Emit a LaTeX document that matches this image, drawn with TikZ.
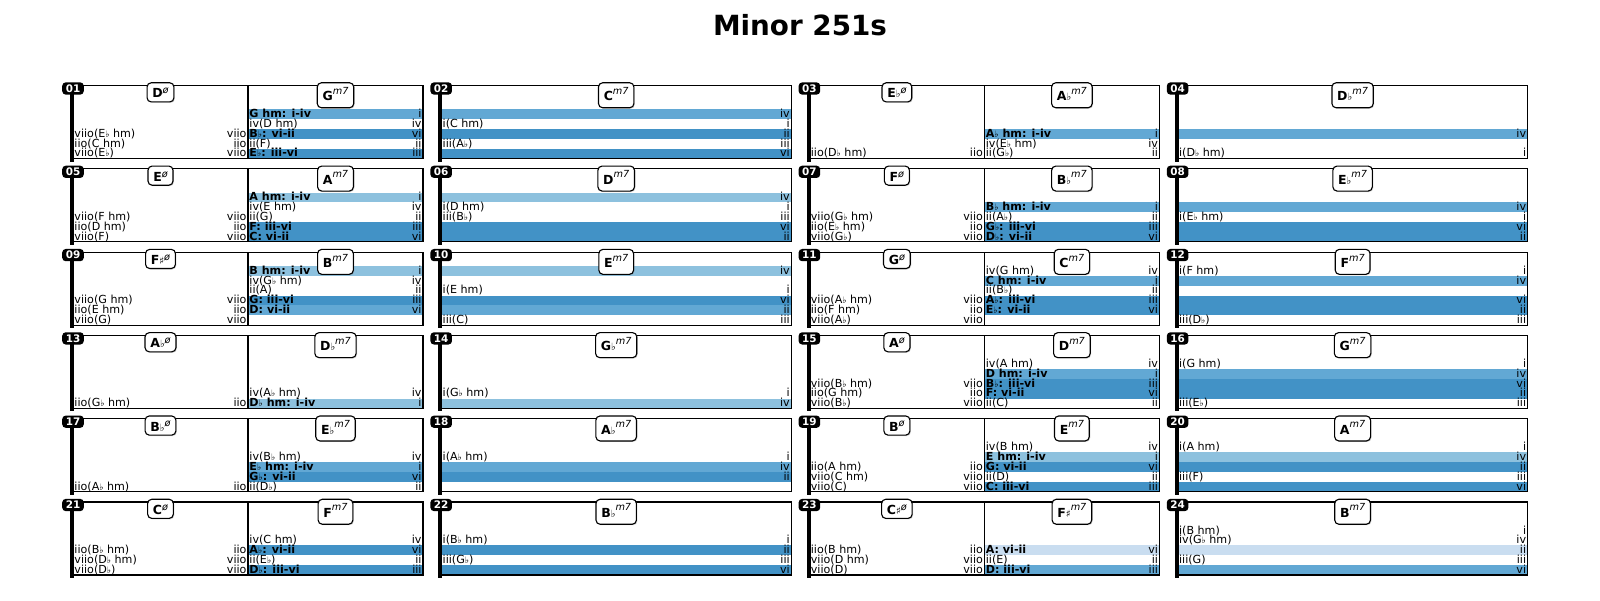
\documentclass[tikz,border=0pt]{standalone}
\usepackage{fontspec}
\setmainfont{DejaVu Sans}
\usepackage{graphicx}
\usetikzlibrary{shadows}
\definecolor{bD}{HTML}{4292C6}
\definecolor{bM}{HTML}{62A8D4}
\definecolor{bL}{HTML}{8DC1DE}
\definecolor{bV}{HTML}{C9DDF0}
\newcommand{\fl}{\scalebox{0.8}{♭}}
\newcommand{\shp}{\scalebox{0.8}{♯}}
\newcommand{\hdim}[1]{\textbf{#1}\raisebox{3pt}{\fontsize{7}{7}\selectfont\itshape ø}}
\newcommand{\msev}[1]{\textbf{#1}\raisebox{4.6pt}{\fontsize{7}{7}\selectfont\itshape m7}}
\newcounter{entc}
\newcommand{\Ent}[7]{%
  \pgfmathsetmacro{\eL}{73+368.2*#1}%
  \ifcase#3\relax
    \pgfmathsetmacro{\xa}{\eL}\pgfmathsetmacro{\xb}{\eL+175}%
  \or
    \pgfmathsetmacro{\xa}{\eL+175}\pgfmathsetmacro{\xb}{\eL+350}%
  \else
    \pgfmathsetmacro{\xa}{\eL}\pgfmathsetmacro{\xb}{\eL+350}%
  \fi
  \pgfmathsetmacro{\yb}{85.5+83.3*#2+73-9.85*(#4-1)}%
  \pgfmathsetmacro{\yt}{\yb-9.85}%
  \ifx\relax#5\relax\else\fill[#5] (\xa,\yt) rectangle (\xb,\yb);\fi
  \stepcounter{entc}%
  \node[entl] (el\theentc) at (\xa+1.2,\yb-1.6) {#6};%
  \node[entr] (er\theentc) at (\xb-1.2,\yb-1.6) {#7};%
}
% left half white row
\newcommand{\Lr}[5]{\Ent{#1}{#2}{0}{#3}{}{#4}{#5}}
\newcommand{\Rr}[6]{\Ent{#1}{#2}{1}{#3}{#4}{#5}{#6}}
\newcommand{\Fr}[6]{\Ent{#1}{#2}{2}{#3}{#4}{#5}{#6}}
\newcommand{\BadgeBar}[1]{%
  \draw[bar] (\pL-0.8,\pT+3) -- (\pL-0.8,\pT+76);
  \node[badge] (b#1) at (\pL,\pT+3) {#1};}
\newcommand{\SplitP}[5]{%
  \pgfmathsetmacro{\pL}{73+368.2*#1}\pgfmathsetmacro{\pT}{85.5+83.3*#2}%
  \draw[frame] (\pL,\pT) rectangle (\pL+350,\pT+73);
  \draw[frame] (\pL+175,\pT) -- (\pL+175,\pT+73);
  \node[chordA] (h#3) at (\pL+87.5,\pT-3.3) {#4};
  \node[chordB] (m#3) at (\pL+262.5,\pT-3.3) {#5};
  \BadgeBar{#3}}
\newcommand{\SingleP}[4]{%
  \pgfmathsetmacro{\pL}{73+368.2*#1}\pgfmathsetmacro{\pT}{85.5+83.3*#2}%
  \draw[frame] (\pL,\pT) rectangle (\pL+350,\pT+73);
  \node[chordB] (m#3) at (\pL+175,\pT-3.3) {#4};
  \BadgeBar{#3}}
\tikzset{
  entl/.style={anchor=base west, inner sep=0pt, font=\fontsize{8}{8}\selectfont},
  entr/.style={anchor=base east, inner sep=0pt, font=\fontsize{8}{8}\selectfont},
  frame/.style={draw=black, line width=0.8pt},
  bar/.style={line width=3pt, black},
  badge/.style={fill=black, text=white, rounded corners=2.5pt, font=\fontsize{7.5}{7.5}\selectfont\bfseries, minimum width=15.5pt, minimum height=8.8pt, inner sep=0pt},
  chordbase/.style={draw=black, fill=white, line width=0.8pt, rounded corners=3pt, anchor=north, inner xsep=3.8pt, inner ysep=2.9pt, font=\fontsize{9}{9}\selectfont, drop shadow={shadow xshift=0.7pt, shadow yshift=-0.7pt, opacity=0.35}},
  chordA/.style={chordbase, text height=8pt, text depth=0pt},
  chordB/.style={chordbase, text height=10.1pt, text depth=2.1pt},
}
\begin{document}
\begin{tikzpicture}[x=0.72pt, y=-0.72pt]
\useasboundingbox (0,0) rectangle (1600,600);
\node[font=\fontsize{20}{24}\selectfont\bfseries] (title) at (800,25) {Minor 251s};
% ---- 01
\Lr{0}{0}{3}{viio(E\fl\ hm)}{viio}\Lr{0}{0}{2}{iio(C hm)}{iio}\Lr{0}{0}{1}{viio(E\fl)}{viio}
\Rr{0}{0}{5}{bM}{\bfseries G hm: i-iv}{i}\Rr{0}{0}{4}{}{iv(D hm)}{iv}\Rr{0}{0}{3}{bD}{\bfseries B\fl: vi-ii}{vi}\Rr{0}{0}{2}{}{ii(F)}{ii}\Rr{0}{0}{1}{bD}{\bfseries E\fl: iii-vi}{iii}
\SplitP{0}{0}{01}{\hdim{D}}{\msev{G}}
% ---- 02
\Fr{1}{0}{5}{bM}{}{iv}\Fr{1}{0}{4}{}{i(C hm)}{i}\Fr{1}{0}{3}{bD}{}{ii}\Fr{1}{0}{2}{}{iii(A\fl)}{iii}\Fr{1}{0}{1}{bD}{}{vi}
\SingleP{1}{0}{02}{\msev{C}}
% ---- 03
\Lr{2}{0}{1}{iio(D\fl\ hm)}{iio}
\Rr{2}{0}{3}{bM}{\bfseries A\fl\ hm: i-iv}{i}\Rr{2}{0}{2}{}{iv(E\fl\ hm)}{iv}\Rr{2}{0}{1}{}{ii(G\fl)}{ii}
\SplitP{2}{0}{03}{\hdim{E\fl}}{\msev{A\fl}}
% ---- 04
\Fr{3}{0}{3}{bM}{}{iv}\Fr{3}{0}{1}{}{i(D\fl\ hm)}{i}
\SingleP{3}{0}{04}{\msev{D\fl}}
% ---- 05
\Lr{0}{1}{3}{viio(F hm)}{viio}\Lr{0}{1}{2}{iio(D hm)}{iio}\Lr{0}{1}{1}{viio(F)}{viio}
\Rr{0}{1}{5}{bL}{\bfseries A hm: i-iv}{i}\Rr{0}{1}{4}{}{iv(E hm)}{iv}\Rr{0}{1}{3}{}{ii(G)}{ii}\Rr{0}{1}{2}{bD}{\bfseries F: iii-vi}{iii}\Rr{0}{1}{1}{bD}{\bfseries C: vi-ii}{vi}
\SplitP{0}{1}{05}{\hdim{E}}{\msev{A}}
% ---- 06
\Fr{1}{1}{5}{bL}{}{iv}\Fr{1}{1}{4}{}{i(D hm)}{i}\Fr{1}{1}{3}{}{iii(B\fl)}{iii}\Fr{1}{1}{2}{bD}{}{vi}\Fr{1}{1}{1}{bD}{}{ii}
\SingleP{1}{1}{06}{\msev{D}}
% ---- 07
\Lr{2}{1}{3}{viio(G\fl\ hm)}{viio}\Lr{2}{1}{2}{iio(E\fl\ hm)}{iio}\Lr{2}{1}{1}{viio(G\fl)}{viio}
\Rr{2}{1}{4}{bM}{\bfseries B\fl\ hm: i-iv}{i}\Rr{2}{1}{3}{}{ii(A\fl)}{ii}\Rr{2}{1}{2}{bD}{\bfseries G\fl: iii-vi}{iii}\Rr{2}{1}{1}{bD}{\bfseries D\fl: vi-ii}{vi}
\SplitP{2}{1}{07}{\hdim{F}}{\msev{B\fl}}
% ---- 08
\Fr{3}{1}{4}{bM}{}{iv}\Fr{3}{1}{3}{}{i(E\fl\ hm)}{i}\Fr{3}{1}{2}{bD}{}{vi}\Fr{3}{1}{1}{bD}{}{ii}
\SingleP{3}{1}{08}{\msev{E\fl}}
% ---- 09
\Lr{0}{2}{3}{viio(G hm)}{viio}\Lr{0}{2}{2}{iio(E hm)}{iio}\Lr{0}{2}{1}{viio(G)}{viio}
\Rr{0}{2}{6}{bL}{\bfseries B hm: i-iv}{i}\Rr{0}{2}{5}{}{iv(G\fl\ hm)}{iv}\Rr{0}{2}{4}{}{ii(A)}{ii}\Rr{0}{2}{3}{bD}{\bfseries G: iii-vi}{iii}\Rr{0}{2}{2}{bM}{\bfseries D: vi-ii}{vi}
\SplitP{0}{2}{09}{\hdim{F\shp}}{\msev{B}}
% ---- 10
\Fr{1}{2}{6}{bL}{}{iv}\Fr{1}{2}{4}{}{i(E hm)}{i}\Fr{1}{2}{3}{bD}{}{vi}\Fr{1}{2}{2}{bM}{}{ii}\Fr{1}{2}{1}{}{iii(C)}{iii}
\SingleP{1}{2}{10}{\msev{E}}
% ---- 11
\Lr{2}{2}{3}{viio(A\fl\ hm)}{viio}\Lr{2}{2}{2}{iio(F hm)}{iio}\Lr{2}{2}{1}{viio(A\fl)}{viio}
\Rr{2}{2}{6}{}{iv(G hm)}{iv}\Rr{2}{2}{5}{bM}{\bfseries C hm: i-iv}{i}\Rr{2}{2}{4}{}{ii(B\fl)}{ii}\Rr{2}{2}{3}{bD}{\bfseries A\fl: iii-vi}{iii}\Rr{2}{2}{2}{bD}{\bfseries E\fl: vi-ii}{vi}
\SplitP{2}{2}{11}{\hdim{G}}{\msev{C}}
% ---- 12
\Fr{3}{2}{6}{}{i(F hm)}{i}\Fr{3}{2}{5}{bM}{}{iv}\Fr{3}{2}{3}{bD}{}{vi}\Fr{3}{2}{2}{bD}{}{ii}\Fr{3}{2}{1}{}{iii(D\fl)}{iii}
\SingleP{3}{2}{12}{\msev{F}}
% ---- 13
\Lr{0}{3}{1}{iio(G\fl\ hm)}{iio}
\Rr{0}{3}{2}{}{iv(A\fl\ hm)}{iv}\Rr{0}{3}{1}{bL}{\bfseries D\fl\ hm: i-iv}{i}
\SplitP{0}{3}{13}{\hdim{A\fl}}{\msev{D\fl}}
% ---- 14
\Fr{1}{3}{2}{}{i(G\fl\ hm)}{i}\Fr{1}{3}{1}{bL}{}{iv}
\SingleP{1}{3}{14}{\msev{G\fl}}
% ---- 15
\Lr{2}{3}{3}{viio(B\fl\ hm)}{viio}\Lr{2}{3}{2}{iio(G hm)}{iio}\Lr{2}{3}{1}{viio(B\fl)}{viio}
\Rr{2}{3}{5}{}{iv(A hm)}{iv}\Rr{2}{3}{4}{bM}{\bfseries D hm: i-iv}{i}\Rr{2}{3}{3}{bD}{\bfseries B\fl: iii-vi}{iii}\Rr{2}{3}{2}{bD}{\bfseries F: vi-ii}{vi}\Rr{2}{3}{1}{}{ii(C)}{ii}
\SplitP{2}{3}{15}{\hdim{A}}{\msev{D}}
% ---- 16
\Fr{3}{3}{5}{}{i(G hm)}{i}\Fr{3}{3}{4}{bM}{}{iv}\Fr{3}{3}{3}{bD}{}{vi}\Fr{3}{3}{2}{bD}{}{ii}\Fr{3}{3}{1}{}{iii(E\fl)}{iii}
\SingleP{3}{3}{16}{\msev{G}}
% ---- 17
\Lr{0}{4}{1}{iio(A\fl\ hm)}{iio}
\Rr{0}{4}{4}{}{iv(B\fl\ hm)}{iv}\Rr{0}{4}{3}{bM}{\bfseries E\fl\ hm: i-iv}{i}\Rr{0}{4}{2}{bD}{\bfseries G\fl: vi-ii}{vi}\Rr{0}{4}{1}{}{ii(D\fl)}{ii}
\SplitP{0}{4}{17}{\hdim{B\fl}}{\msev{E\fl}}
% ---- 18
\Fr{1}{4}{4}{}{i(A\fl\ hm)}{i}\Fr{1}{4}{3}{bM}{}{iv}\Fr{1}{4}{2}{bD}{}{ii}
\SingleP{1}{4}{18}{\msev{A\fl}}
% ---- 19
\Lr{2}{4}{3}{iio(A hm)}{iio}\Lr{2}{4}{2}{viio(C hm)}{viio}\Lr{2}{4}{1}{viio(C)}{viio}
\Rr{2}{4}{5}{}{iv(B hm)}{iv}\Rr{2}{4}{4}{bL}{\bfseries E hm: i-iv}{i}\Rr{2}{4}{3}{bD}{\bfseries G: vi-ii}{vi}\Rr{2}{4}{2}{}{ii(D)}{ii}\Rr{2}{4}{1}{bD}{\bfseries C: iii-vi}{iii}
\SplitP{2}{4}{19}{\hdim{B}}{\msev{E}}
% ---- 20
\Fr{3}{4}{5}{}{i(A hm)}{i}\Fr{3}{4}{4}{bL}{}{iv}\Fr{3}{4}{3}{bD}{}{ii}\Fr{3}{4}{2}{}{iii(F)}{iii}\Fr{3}{4}{1}{bD}{}{vi}
\SingleP{3}{4}{20}{\msev{A}}
% ---- 21
\Lr{0}{5}{3}{iio(B\fl\ hm)}{iio}\Lr{0}{5}{2}{viio(D\fl\ hm)}{viio}\Lr{0}{5}{1}{viio(D\fl)}{viio}
\Rr{0}{5}{4}{}{iv(C hm)}{iv}\Rr{0}{5}{3}{bD}{\bfseries A\fl: vi-ii}{vi}\Rr{0}{5}{2}{}{ii(E\fl)}{ii}\Rr{0}{5}{1}{bD}{\bfseries D\fl: iii-vi}{iii}
\SplitP{0}{5}{21}{\hdim{C}}{\msev{F}}
% ---- 22
\Fr{1}{5}{4}{}{i(B\fl\ hm)}{i}\Fr{1}{5}{3}{bD}{}{ii}\Fr{1}{5}{2}{}{iii(G\fl)}{iii}\Fr{1}{5}{1}{bD}{}{vi}
\SingleP{1}{5}{22}{\msev{B\fl}}
% ---- 23
\Lr{2}{5}{3}{iio(B hm)}{iio}\Lr{2}{5}{2}{viio(D hm)}{viio}\Lr{2}{5}{1}{viio(D)}{viio}
\Rr{2}{5}{3}{bV}{\bfseries A: vi-ii}{vi}\Rr{2}{5}{2}{}{ii(E)}{ii}\Rr{2}{5}{1}{bM}{\bfseries D: iii-vi}{iii}
\SplitP{2}{5}{23}{\hdim{C\shp}}{\msev{F\shp}}
% ---- 24
\Fr{3}{5}{5}{}{i(B hm)}{i}\Fr{3}{5}{4}{}{iv(G\fl\ hm)}{iv}\Fr{3}{5}{3}{bV}{}{ii}\Fr{3}{5}{2}{}{iii(G)}{iii}\Fr{3}{5}{1}{bM}{}{vi}
\SingleP{3}{5}{24}{\msev{B}}
\end{tikzpicture}
\end{document}
